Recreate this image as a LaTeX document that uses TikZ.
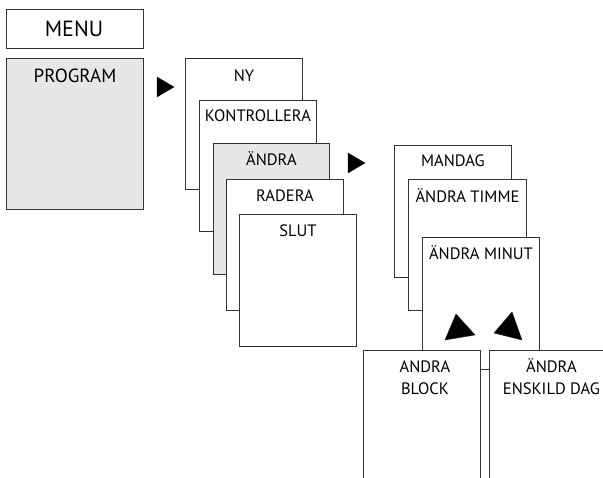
\documentclass[tikz,border=0pt]{standalone}
\usepackage{fontspec}
\setmainfont{PT Sans}
\definecolor{edge}{HTML}{333333}
\definecolor{panel}{HTML}{E6E7E9}
\tikzset{
  box/.style={draw=edge, line width=0.9pt, fill=white, anchor=north west, inner sep=0pt},
  graybox/.style={box, fill=panel},
  lbl/.style={anchor=base, inner sep=0pt, font=\fontsize{16.5}{19}\selectfont, text=black},
  tri/.style={fill=black, draw=black, line width=0.3pt, line join=round}
}
\begin{document}
\begin{tikzpicture}[x=1pt,y=-1pt]
\useasboundingbox (0,0) rectangle (603,478);
\clip (0,0) rectangle (603,478);
% MENU
\node[box, minimum width=137pt, minimum height=39pt] (menu) at (6,9) {};
\node[lbl, font=\fontsize{22}{25}\selectfont] (menut) at (74,37) {MENU};
% PROGRAM
\node[graybox, minimum width=137pt, minimum height=151pt] (prog) at (6,58) {};
\node[lbl, font=\fontsize{19}{22}\selectfont] (progt) at (75,83) {PROGRAM};
% first stack
\node[box, minimum width=117pt, minimum height=131pt] (ny) at (185,58) {};
\node[lbl] (nyt) at ([yshift=-24pt]ny.north) {NY};
\node[box, minimum width=117pt, minimum height=131pt] (kon) at (199,100) {};
\node[lbl] (kont) at ([yshift=-22pt]kon.north) {KONTROLLERA};
\node[graybox, minimum width=116pt, minimum height=131pt] (and) at (213,143) {};
\node[lbl] (andt) at ([yshift=-23pt]and.north) {ÄNDRA};
\node[box, minimum width=117pt, minimum height=131pt] (rad) at (226,179) {};
\node[lbl] (radt) at ([yshift=-23pt]rad.north) {RADERA};
\node[box, minimum width=117pt, minimum height=132pt] (slut) at (239,214) {};
\node[lbl] (slutt) at ([yshift=-23pt]slut.north) {SLUT};
% second stack
\node[box, minimum width=117pt, minimum height=132pt] (man) at (394,145) {};
\node[lbl] (mant) at ([yshift=-22pt]man.north) {MANDAG};
\node[box, minimum width=118pt, minimum height=131pt] (tim) at (408,179) {};
\node[lbl] (timt) at ([yshift=-24pt]tim.north) {ÄNDRA TIMME};
\node[box, minimum width=117pt, minimum height=132pt] (min) at (422,237) {};
\node[lbl] (mint) at ([yshift=-23pt]min.north) {ÄNDRA MINUT};
% bottom boxes (cut by the page edge)
\node[box, minimum width=117pt, minimum height=160pt] (blk) at (363,350) {};
\node[lbl] (blkt) at ([xshift=3pt,yshift=-23pt]blk.north) {ANDRA};
\node[lbl] (blkt2) at ([xshift=3pt,yshift=-45pt]blk.north) {BLOCK};
\node[box, minimum width=124pt, minimum height=160pt] (ens) at (489,350) {};
\node[lbl] (enst) at ([yshift=-23pt]ens.north) {ÄNDRA};
\node[lbl] (enst2) at ([yshift=-45pt]ens.north) {ENSKILD DAG};
% arrows
\coordinate (a1a) at (157,77); \coordinate (a1b) at (157,97); \coordinate (a1c) at (174,87);
\fill[tri] (a1a) -- (a1c) -- (a1b) -- cycle;
\coordinate (a2a) at (348,153); \coordinate (a2b) at (348,173); \coordinate (a2c) at (365,163);
\fill[tri] (a2a) -- (a2c) -- (a2b) -- cycle;
\coordinate (a3a) at (456,314); \coordinate (a3b) at (445,340); \coordinate (a3c) at (475,335);
\fill[tri] (a3a) -- (a3c) -- (a3b) -- cycle;
\coordinate (a4a) at (512,312); \coordinate (a4b) at (494,333); \coordinate (a4c) at (522,340);
\fill[tri] (a4a) -- (a4c) -- (a4b) -- cycle;
\end{tikzpicture}
\end{document}
